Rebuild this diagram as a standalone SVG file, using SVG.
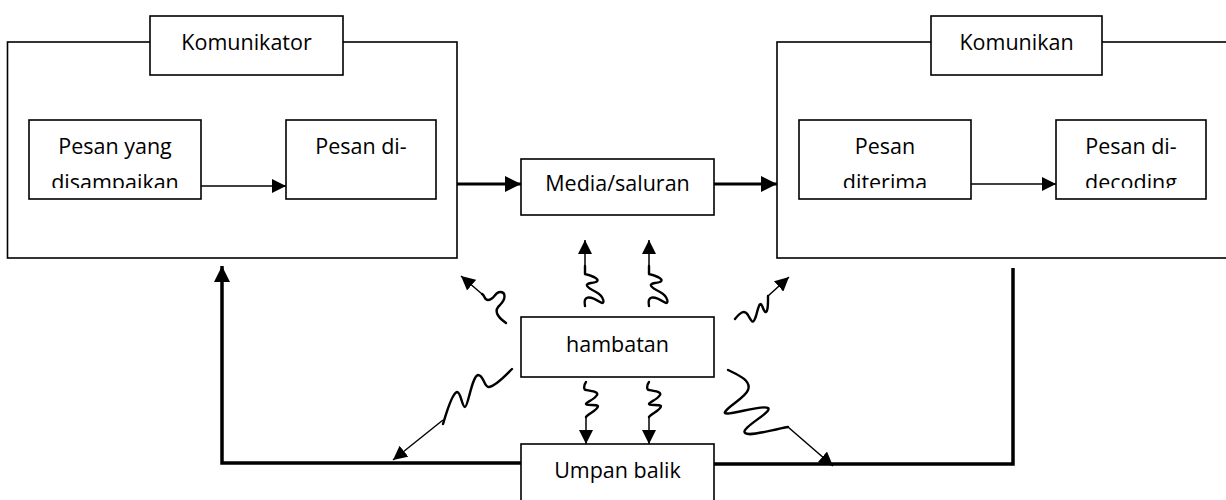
<svg xmlns="http://www.w3.org/2000/svg" width="1226" height="500" viewBox="0 0 1226 500">
<style>
.box{fill:#fff;stroke:#000;stroke-width:1.6}
.t{font-family:"Open Sans","Noto Sans",sans-serif;font-size:21.5px;fill:#000;text-anchor:middle}
.thin{fill:none;stroke:#000;stroke-width:1.5}
.thick{fill:none;stroke:#000;stroke-width:3}
.fb{fill:none;stroke:#000;stroke-width:3.5}
.sq{fill:none;stroke:#000;stroke-width:2.4;stroke-linecap:round;stroke-linejoin:round}
</style>
<defs>
<marker id="ah" markerUnits="userSpaceOnUse" markerWidth="18" markerHeight="16" refX="16" refY="8" orient="auto">
<path d="M0,0 L16,8 L0,16 Z" fill="#000"/>
</marker>
<marker id="ahs" markerUnits="userSpaceOnUse" markerWidth="16" markerHeight="14" refX="14" refY="7" orient="auto">
<path d="M0,0 L14,7 L0,14 Z" fill="#000"/>
</marker>
<clipPath id="c1"><rect x="29" y="120" width="172" height="68"/></clipPath>
<clipPath id="c3"><rect x="799" y="120" width="172" height="68"/></clipPath>
<clipPath id="c4"><rect x="1056" y="120" width="150" height="68"/></clipPath>
</defs>

<g id="komunikator">
<rect class="box" x="7.5" y="42" width="449.5" height="216"/>
<rect class="box" x="150" y="16" width="193" height="59"/>
<text class="t" x="246.5" y="50">Komunikator</text>
</g>
<g id="pesan-disampaikan">
<rect class="box" x="29" y="120" width="172" height="79"/>
<g clip-path="url(#c1)"><text class="t" x="115" y="154">Pesan yang</text><text class="t" x="115" y="190">disampaikan</text></g>
</g>
<g id="pesan-encoding">
<rect class="box" x="286" y="120" width="150" height="79"/>
<text class="t" x="361" y="154">Pesan di-</text>
</g>

<g id="komunikan">
<rect class="box" x="777" y="42" width="460" height="216"/>
<rect class="box" x="931" y="16" width="171" height="59"/>
<text class="t" x="1016.5" y="50">Komunikan</text>
</g>
<g id="pesan-diterima">
<rect class="box" x="799" y="120" width="172" height="79"/>
<g clip-path="url(#c3)"><text class="t" x="885" y="154">Pesan</text><text class="t" x="885" y="190">diterima</text></g>
</g>
<g id="pesan-decoding">
<rect class="box" x="1056" y="120" width="150" height="79"/>
<g clip-path="url(#c4)"><text class="t" x="1131" y="154">Pesan di-</text><text class="t" x="1131" y="190">decoding</text></g>
</g>

<g id="media">
<rect class="box" x="521" y="159" width="193" height="56"/>
<text class="t" x="617.5" y="191">Media/saluran</text>
</g>
<g id="hambatan">
<rect class="box" x="521" y="317" width="193" height="60"/>
<text class="t" x="617.5" y="352">hambatan</text>
</g>
<g id="umpan-balik">
<rect class="box" x="521" y="444" width="193" height="70"/>
<text class="t" x="617.5" y="478">Umpan balik</text>
</g>

<g id="connectors">
<line class="thin" x1="201" y1="186" x2="286" y2="186" marker-end="url(#ahs)"/>
<line class="thin" x1="971" y1="184" x2="1056" y2="184" marker-end="url(#ahs)"/>
<line class="thick" x1="457" y1="184" x2="521" y2="184" marker-end="url(#ah)"/>
<line class="thick" x1="714" y1="184" x2="777" y2="184" marker-end="url(#ah)"/>
<polyline class="fb" points="521,463 222,463 222,266" marker-end="url(#ah)"/>
<polyline class="fb" points="1013,268 1013,464 714,464"/>

<path class="sq" d="M585,306 C583,296 589,295 600,302 C606,306 604,296 596,292 C586,287 584,284 591,283 C601,282 600,278 585,274 L585,266"/>
<line class="thin" x1="585" y1="267" x2="585" y2="240" stroke-width="2" marker-end="url(#ahs)"/>
<path class="sq" d="M649,306 C647,296 653,295 664,302 C670,306 668,296 660,292 C650,287 648,284 655,283 C665,282 664,278 649,274 L649,266"/>
<line class="thin" x1="649" y1="267" x2="649" y2="240" stroke-width="2" marker-end="url(#ahs)"/>

<path class="sq" d="M506,323 C496,316 494,310 500,305 C506,299 506,292 500,292 C495,292 494,300 488,300 C484,300 485,295 482,294"/>
<line class="thin" x1="482" y1="294" x2="461" y2="276" stroke-width="2" marker-end="url(#ahs)"/>

<path class="sq" d="M735,319 C740,313 744,309 748,315 C752,322 753,325 756,316 C759,305 760,300 763,308 C766,316 768,312 768,300 L768,296"/>
<line class="thin" x1="768" y1="296" x2="789" y2="277" stroke-width="2" marker-end="url(#ahs)"/>

<path class="sq" d="M512,369 C505,376 496,386 489,387 C484,388 484,375 478,375 C472,376 468,407 465,407 C462,407 461,392 457,392 C452,393 446,414 443,424"/>
<line class="thin" x1="443" y1="420" x2="393" y2="460" stroke-width="2" marker-end="url(#ahs)"/>

<path class="sq" d="M586,382 C583,386 584,390 586,390 C592,391 599,392 597,395 C594,400 586,402 586,404 C586,406 596,404 598,406 C598,410 588,414 586,417"/>
<line class="thin" x1="586" y1="417" x2="586" y2="444" stroke-width="2" marker-end="url(#ahs)"/>
<path class="sq" d="M649,382 C646,386 647,390 649,390 C655,391 662,392 660,395 C657,400 649,402 649,404 C649,406 659,404 661,406 C661,410 651,414 649,417"/>
<line class="thin" x1="649" y1="417" x2="649" y2="444" stroke-width="2" marker-end="url(#ahs)"/>

<path class="sq" d="M728,370 C736,374 752,380 748,390 C745,398 728,406 725,412 C722,418 762,404 768,408 C773,412 740,428 745,433 C750,437 770,430 788,427"/>
<line class="thin" x1="788" y1="427" x2="833" y2="466" stroke-width="2" marker-end="url(#ahs)"/>
</g>
</svg>
